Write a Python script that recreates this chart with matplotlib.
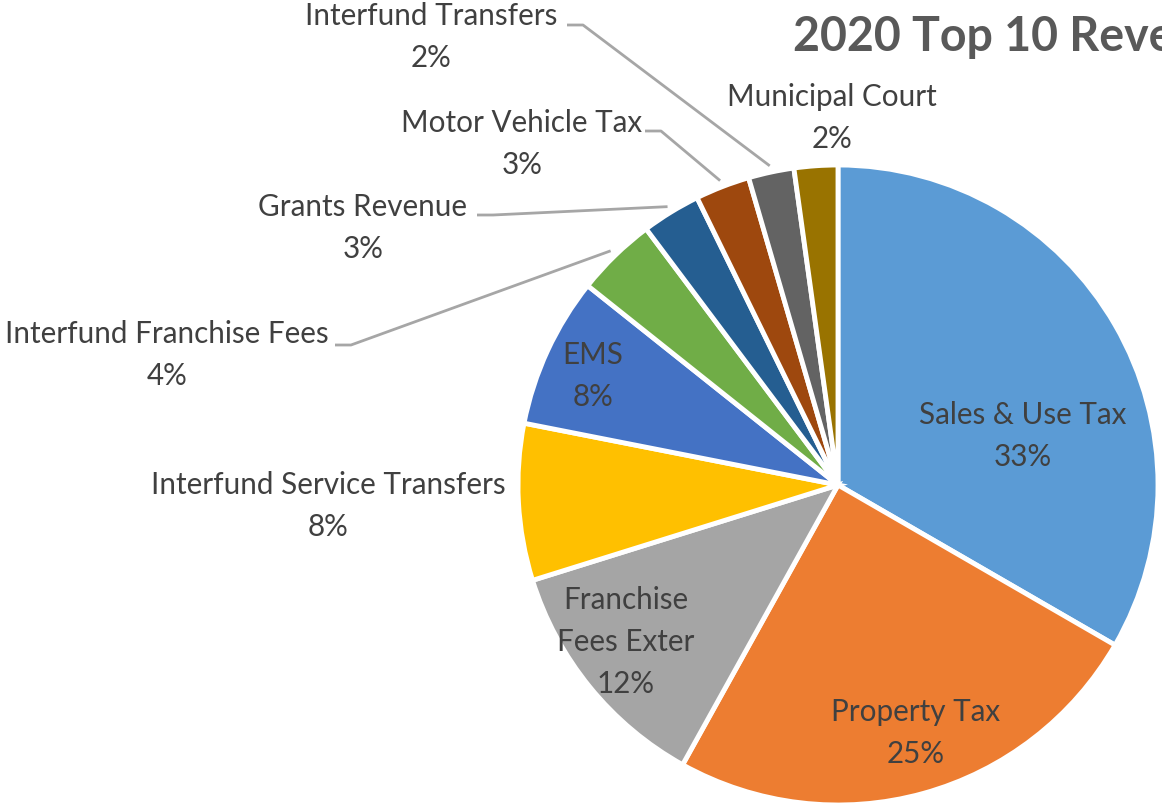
import matplotlib
matplotlib.use("Agg")
import matplotlib.pyplot as plt
import numpy as np

# slices in drawing order, clockwise from 12 o'clock
categories = ["Sales & Use Tax", "Property Tax", "Franchise\nFees Exter",
              "Interfund Service Transfers", "EMS", "Interfund Franchise Fees",
              "Grants Revenue", "Motor Vehicle Tax", "Interfund Transfers",
              "Municipal Court"]
shares = [33.3, 24.7, 12.1, 7.9, 7.6, 4.06, 2.97, 2.75, 2.3, 2.2]
colors = ["#5B9BD5", "#ED7D31", "#A5A5A5", "#FFC000", "#4472C4", "#70AD47",
          "#255E91", "#9E480E", "#636363", "#997300"]

# label centres in image pixels (x, y)
label_px = [(1023, 436), (916, 733), (626, 642), (328, 506), (593, 376),
            (167, 355), (363, 228), (522, 144), (431, 37), (832, 118)]
# start of the leader line in image pixels, None = no leader
leader_px = [None, None, None, None, None,
             (335, 345), (477, 215), (645, 131), (567, 25), None]

W, H = 1162, 805
CX, CY, R = 838, 485, 320


def to_data(px, py):
    return (px - CX) / R, (CY - py) / R


plt.rcParams['font.family'] = ['Lato', 'DejaVu Sans']

fig = plt.figure(figsize=(W / 100, H / 100), dpi=100)
ax = fig.add_axes([0, 0, 1, 1])

wedges, _ = ax.pie(shares, colors=colors, startangle=90, counterclock=False,
                   radius=1, wedgeprops=dict(edgecolor="white", linewidth=3.5))

ax.set_xlim(to_data(0, 0)[0], to_data(W, 0)[0])
ax.set_ylim(to_data(0, H)[1], to_data(0, 0)[1])
ax.set_aspect("auto")
ax.axis("off")

for i, w in enumerate(wedges):
    x, y = to_data(*label_px[i])
    ax.text(x, y, f"{categories[i]}\n{round(shares[i])}%", ha="center", va="center",
            fontsize=21.3, color="#404040", linespacing=1.6)
    if leader_px[i] is not None:
        mid = np.deg2rad((w.theta1 + w.theta2) / 2)
        ex, ey = 1.02 * np.cos(mid), 1.02 * np.sin(mid)
        sx, sy = to_data(*leader_px[i])
        kx = sx + 16 / R
        ax.plot([sx, kx, ex], [sy, sy, ey], color="#A6A6A6", lw=2, solid_capstyle="butt")

# title is cropped by the right edge, as in the original image
tx, ty = to_data(793, 37)
ax.text(tx, ty, "2020 Top 10 Revenues", ha="left", va="center", fontsize=33.5,
        fontweight="bold", color="#595959")

fig.savefig("out.png", dpi=100)
